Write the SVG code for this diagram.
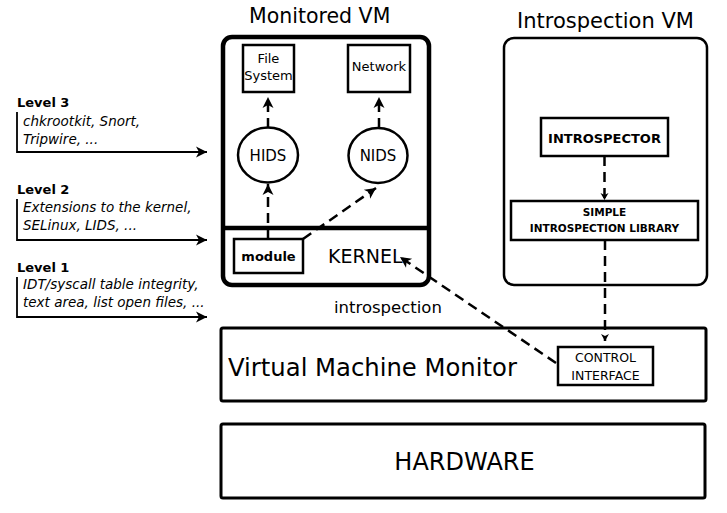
<svg xmlns="http://www.w3.org/2000/svg" width="727" height="513" viewBox="0 0 727 513">
<defs>
<style>
text{font-family:"DejaVu Sans","Liberation Sans",sans-serif;fill:#000}
.box{fill:#fff;stroke:#000;stroke-width:2.5}
.thick{fill:none;stroke:#000;stroke-width:4.5}
.dash{fill:none;stroke:#000;stroke-width:2.5;stroke-dasharray:10,6}
.lvl{fill:none;stroke:#000;stroke-width:1.8}
.it{font-style:italic;font-size:13.5px}
.lb{font-weight:bold;font-size:13px}
</style>
<marker id="ah" viewBox="-12 -6 13 12" refX="0" refY="0" markerWidth="13" markerHeight="12" markerUnits="userSpaceOnUse" orient="auto">
<path d="M0,0 L-11,-5.5 L-8,0 L-11,5.5 Z" fill="#000"/>
</marker>
<marker id="ahs" viewBox="-8 -5 9 10" refX="0" refY="0" markerWidth="9" markerHeight="10" markerUnits="userSpaceOnUse" orient="auto">
<path d="M0,0 L-7,-4 L-5,0 L-7,4 Z" fill="#000"/>
</marker>
</defs>

<text x="249" y="23" font-size="20.5">Monitored VM</text>
<text x="517" y="28" font-size="21">Introspection VM</text>

<g id="levels">
<text x="17" y="107" class="lb">Level 3</text>
<text x="23" y="126" class="it">chkrootkit, Snort,</text>
<text x="23" y="144" class="it">Tripwire, ...</text>
<text x="17" y="194" class="lb">Level 2</text>
<text x="23" y="212" class="it">Extensions to the kernel,</text>
<text x="23" y="230" class="it">SELinux, LIDS, ...</text>
<text x="17" y="272" class="lb">Level 1</text>
<text x="23" y="289" class="it">IDT/syscall table integrity,</text>
<text x="23" y="307" class="it">text area, list open files, ...</text>
</g>

<g id="monitored-vm">
<rect x="223" y="37" width="206" height="248" rx="9" class="thick"/>
<line x1="223" y1="228" x2="429" y2="228" stroke="#000" stroke-width="4.5"/>
</g>
<g id="file-system">
<rect x="243" y="45" width="51" height="47" class="box"/>
<text x="268.5" y="63" font-size="13" text-anchor="middle">File</text>
<text x="268.5" y="80" font-size="13" text-anchor="middle">System</text>
</g>
<g id="network">
<rect x="348" y="45" width="62" height="47" class="box"/>
<text x="379" y="71" font-size="13" text-anchor="middle">Network</text>
</g>
<g id="hids">
<ellipse cx="268" cy="155" rx="30" ry="27.5" class="box"/>
<text x="268" y="161" font-size="15" text-anchor="middle">HIDS</text>
</g>
<g id="nids">
<ellipse cx="378" cy="155.5" rx="29.5" ry="27.5" class="box"/>
<text x="378" y="161" font-size="15" text-anchor="middle">NIDS</text>
</g>
<g id="module">
<rect x="234" y="239" width="69" height="34" class="box"/>
<text x="268.5" y="261" font-size="13" font-weight="bold" text-anchor="middle">module</text>
</g>
<g id="kernel">
<text x="328" y="263" font-size="19">KERNEL</text>
</g>

<g id="introspection-vm">
<rect x="504" y="38" width="203" height="247" rx="10" class="box"/>
</g>
<g id="introspector">
<rect x="541" y="118" width="127" height="38" class="box"/>
<text x="604.5" y="143" font-size="13" font-weight="bold" text-anchor="middle">INTROSPECTOR</text>
</g>
<g id="library">
<rect x="511" y="201" width="187" height="39" class="box"/>
<text x="604.5" y="216" font-size="10.5" font-weight="bold" text-anchor="middle">SIMPLE</text>
<text x="604.5" y="232" font-size="10.5" font-weight="bold" text-anchor="middle">INTROSPECTION LIBRARY</text>
</g>

<g id="vmm">
<rect x="221" y="328" width="485" height="73" rx="2" fill="#fff" stroke="#000" stroke-width="3"/>
<text x="228" y="376" font-size="24.3">Virtual Machine Monitor</text>
</g>
<g id="control-interface">
<rect x="558" y="347" width="95" height="38" class="box"/>
<text x="605.5" y="362" font-size="12.5" text-anchor="middle">CONTROL</text>
<text x="605.5" y="380" font-size="12.5" text-anchor="middle">INTERFACE</text>
</g>
<g id="hardware">
<rect x="221" y="424" width="484" height="74" rx="2" fill="#fff" stroke="#000" stroke-width="3"/>
<text x="464.5" y="470" font-size="24" text-anchor="middle">HARDWARE</text>
</g>

<g id="connectors">
<polyline points="17,112 17,152 207,152" class="lvl" marker-end="url(#ah)"/>
<polyline points="17,199 17,240 207,240" class="lvl" marker-end="url(#ah)"/>
<polyline points="17,277 17,317 207,317" class="lvl" marker-end="url(#ah)"/>
<line x1="268" y1="128" x2="268" y2="97" class="dash" marker-end="url(#ah)"/>
<line x1="379" y1="128" x2="379" y2="97" class="dash" marker-end="url(#ah)"/>
<line x1="268" y1="239" x2="268" y2="184" class="dash" marker-end="url(#ah)"/>
<line x1="303" y1="239" x2="376" y2="188" class="dash" marker-end="url(#ah)"/>
<line x1="604.5" y1="156" x2="604.5" y2="200" class="dash" marker-end="url(#ahs)"/>
<line x1="605" y1="240" x2="605" y2="341" class="dash" marker-end="url(#ahs)"/>
<line x1="556" y1="363" x2="400" y2="257" class="dash" marker-end="url(#ah)"/>
<text x="334" y="313" font-size="16.5">introspection</text>
</g>
</svg>
